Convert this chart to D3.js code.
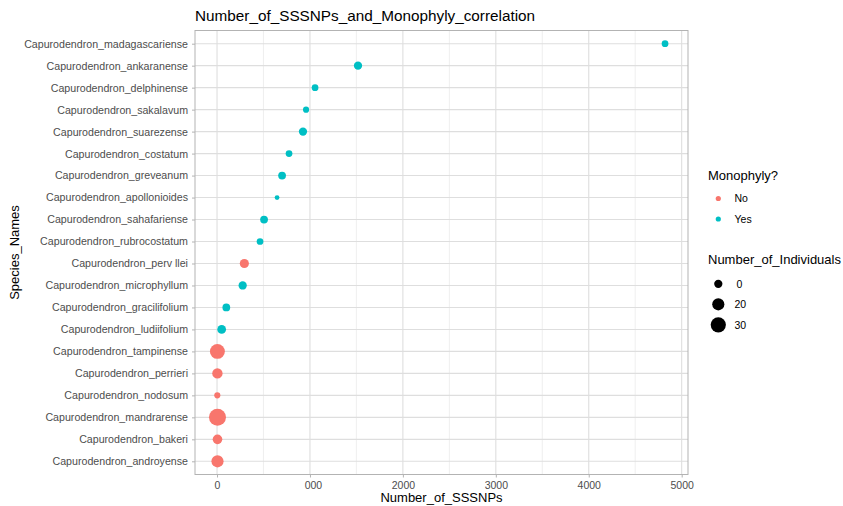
<!DOCTYPE html>
<html>
<head>
<meta charset="utf-8">
<script src="https://cdn.jsdelivr.net/npm/d3@7"></script>
<style>
  html, body { margin: 0; padding: 0; background: #fff; }
  svg { display: block; font-family: "Liberation Sans", Arial, Helvetica, sans-serif; }
</style>
</head>
<body>
<svg id="chart" width="843" height="506"></svg>
<script>
// Species, listed bottom to top as they appear on the y axis
const species = [
  "Capurodendron_androyense",
  "Capurodendron_bakeri",
  "Capurodendron_mandrarense",
  "Capurodendron_nodosum",
  "Capurodendron_perrieri",
  "Capurodendron_tampinense",
  "Capurodendron_ludiifolium",
  "Capurodendron_gracilifolium",
  "Capurodendron_microphyllum",
  "Capurodendron_perv llei",
  "Capurodendron_rubrocostatum",
  "Capurodendron_sahafariense",
  "Capurodendron_apollonioides",
  "Capurodendron_greveanum",
  "Capurodendron_costatum",
  "Capurodendron_suarezense",
  "Capurodendron_sakalavum",
  "Capurodendron_delphinense",
  "Capurodendron_ankaranense",
  "Capurodendron_madagascariense"
];
const sssnps = [5, 5, 5, 3, 4, 4, 50, 100, 276, 294, 463, 506, 646, 700, 775, 925, 958, 1055, 1517, 4821];
const individuals = [20, 13, 37, 6, 15, 29, 11, 9, 10, 12, 7, 9, 4, 9, 7, 10, 6, 7, 10, 7];
const monophyly = ["No", "No", "No", "No", "No", "No", "Yes", "Yes", "Yes", "No", "Yes", "Yes", "Yes", "Yes", "Yes", "Yes", "Yes", "Yes", "Yes", "Yes"];

const monoLevels = ["No", "Yes"];
const monoColors = ["#F8766D", "#00BFC4"];

const xTicks = [0, 1000, 2000, 3000, 4000, 5000];
const xTickLabels = ["0", "000", "2000", "3000", "4000", "5000"];
const xMinorTicks = [500, 1500, 2500, 3500, 4500];

const sizeBreaks = [10, 20, 30];
const sizeLabels = ["0", "20", "30"];

const svg = d3.select("#chart");
const panel = { left: 195, right: 688, top: 30.5, bottom: 474.5 };

const x = d3.scaleLinear().domain([-237, 5068]).range([panel.left, panel.right]);
const y = d3.scalePoint().domain(species).range([panel.bottom, panel.top]).padding(0.6);
const color = d3.scaleOrdinal().domain(monoLevels).range(monoColors);
// point diameter grows with the square root of the count (area scaling)
const sizeSqrt = d3.scaleLinear().domain([Math.sqrt(4), Math.sqrt(37)]).range([2.4, 8.5]);
const radius = n => sizeSqrt(Math.sqrt(n));

const g = svg.append("g");

// minor grid
g.selectAll("line.minor").data(xMinorTicks).join("line")
  .attr("x1", d => x(d)).attr("x2", d => x(d))
  .attr("y1", panel.top).attr("y2", panel.bottom)
  .attr("stroke", "#EBEBEB").attr("stroke-width", 0.8);
// major grid
g.selectAll("line.vmaj").data(xTicks).join("line")
  .attr("x1", d => x(d)).attr("x2", d => x(d))
  .attr("y1", panel.top).attr("y2", panel.bottom)
  .attr("stroke", "#DEDEDE").attr("stroke-width", 1.1);
g.selectAll("line.hmaj").data(species).join("line")
  .attr("x1", panel.left).attr("x2", panel.right)
  .attr("y1", d => y(d)).attr("y2", d => y(d))
  .attr("stroke", "#DEDEDE").attr("stroke-width", 1.1);

// panel border
g.append("rect")
  .attr("x", panel.left).attr("y", panel.top)
  .attr("width", panel.right - panel.left).attr("height", panel.bottom - panel.top)
  .attr("fill", "none").attr("stroke", "#B3B3B3").attr("stroke-width", 1);

// x axis
const xAxis = d3.axisBottom(x).tickValues(xTicks).tickSize(3).tickPadding(4)
  .tickFormat((d, i) => xTickLabels[i]);
const xa = svg.append("g").attr("transform", `translate(0,${panel.bottom})`).call(xAxis);
xa.select(".domain").remove();
xa.selectAll(".tick line").attr("stroke", "#B3B3B3");
xa.selectAll(".tick text").attr("fill", "#4D4D4D").attr("font-size", 10.5)
  .attr("font-family", "Liberation Sans, Arial, sans-serif")
  .attr("dx", (d, i) => xTickLabels[i].length < String(d).length ? 3 : 0);

// y axis
const yAxis = d3.axisLeft(y).tickSize(3).tickPadding(4);
const ya = svg.append("g").attr("transform", `translate(${panel.left},0)`).call(yAxis);
ya.select(".domain").remove();
ya.selectAll(".tick line").attr("stroke", "#B3B3B3");
ya.selectAll(".tick text").attr("fill", "#4D4D4D").attr("font-size", 10.65)
  .attr("font-family", "Liberation Sans, Arial, sans-serif");

// points
const rows = species.map((s, i) => ({ s, v: sssnps[i], n: individuals[i], m: monophyly[i] }));
g.selectAll("circle.pt").data(rows).join("circle")
  .attr("cx", d => x(d.v)).attr("cy", d => y(d.s))
  .attr("r", d => radius(d.n))
  .attr("fill", d => color(d.m));

// titles
svg.append("text").attr("x", panel.left).attr("y", 21)
  .attr("font-size", 15.3).attr("fill", "#000")
  .text("Number_of_SSSNPs_and_Monophyly_correlation");
svg.append("text").attr("x", (panel.left + panel.right) / 2).attr("y", 502)
  .attr("text-anchor", "middle").attr("font-size", 13).attr("fill", "#000")
  .text("Number_of_SSSNPs");
svg.append("text").attr("transform", `translate(19,${(panel.top + panel.bottom) / 2}) rotate(-90)`)
  .attr("text-anchor", "middle").attr("font-size", 13).attr("fill", "#000")
  .text("Species_Names");

// colour legend
const leg = svg.append("g");
leg.append("text").attr("x", 708).attr("y", 180).attr("font-size", 13).text("Monophyly?");
monoLevels.forEach((m, i) => {
  const cy = 198.5 + i * 20.5;
  leg.append("circle").attr("cx", 718.3).attr("cy", cy).attr("r", 2.6).attr("fill", color(m));
  leg.append("text").attr("x", 734.5).attr("y", cy + 3.8).attr("font-size", 10.5).attr("fill", "#000").text(m);
});

// size legend
leg.append("text").attr("x", 708).attr("y", 264).attr("font-size", 13).text("Number_of_Individuals");
sizeBreaks.forEach((b, i) => {
  const cy = 283.8 + i * 20.5;
  leg.append("circle").attr("cx", 718.3).attr("cy", cy).attr("r", radius(b)).attr("fill", "#000");
  leg.append("text").attr("x", i === 0 ? 736.5 : 734.5).attr("y", cy + 3.8)
    .attr("font-size", 10.5).attr("fill", "#000").text(sizeLabels[i]);
});
</script>
</body>
</html>
